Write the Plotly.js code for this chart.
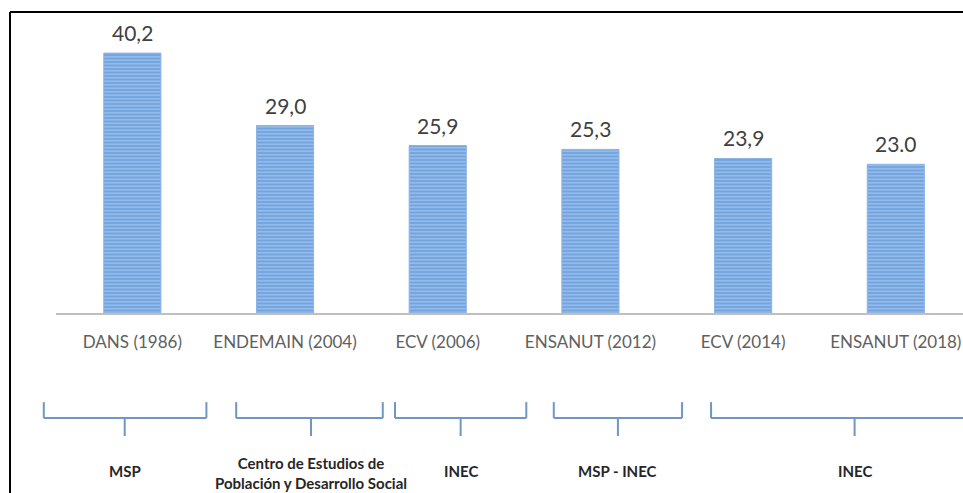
<!DOCTYPE html>
<html>
<head>
<meta charset="utf-8">
<script src="https://cdn.plot.ly/plotly-3.0.1.min.js"></script>
<style>html,body{margin:0;padding:0;background:#fff;overflow:hidden;}#chart{width:963px;height:493px;}</style>
</head>
<body>
<div id="chart"></div>
<script>
// Data
const categories = ['DANS (1986)', 'ENDEMAIN (2004)', 'ECV (2006)', 'ENSANUT (2012)', 'ECV (2014)', 'ENSANUT (2018)'];
const values = [40.2, 29.0, 25.9, 25.3, 23.9, 23.0];
const valueLabels = ['40,2', '29,0', '25,9', '25,3', '23,9', '23.0'];
// Source groups (brackets under the axis), in category units
const groupLabels = ['<b>MSP</b>', '<b>Centro de Estudios de<br>Población y Desarrollo Social</b>', '<b>INEC</b>', '<b>MSP - INEC</b>', '<b>INEC</b>'];
const groupStart = [-0.58, 0.68, 1.72, 2.76, 3.79];
const groupEnd = [0.485, 1.64, 2.58, 3.60, 5.6];
const groupCenter = [-0.05, 1.17, 2.15, 3.18, 4.73];

const xRange = [-0.5, 5.44];
const toPaper = v => (v - xRange[0]) / (xRange[1] - xRange[0]);

const shapes = [];
const annotations = [];
const bc = '#7195c8';
const yTop = -0.297, yBot = -0.35, yStem = -0.41;
for (let i = 0; i < groupLabels.length; i++) {
  const s = toPaper(groupStart[i]), e = toPaper(groupEnd[i]), c = toPaper(groupCenter[i]);
  shapes.push({type: 'line', xref: 'paper', yref: 'paper', x0: s, x1: s, y0: yTop, y1: yBot, line: {color: bc, width: 2}});
  if (groupEnd[i] < xRange[1]) shapes.push({type: 'line', xref: 'paper', yref: 'paper', x0: e, x1: e, y0: yTop, y1: yBot, line: {color: bc, width: 2}});
  shapes.push({type: 'line', xref: 'paper', yref: 'paper', x0: s, x1: Math.min(e, 1.0), y0: yBot, y1: yBot, line: {color: bc, width: 2}});
  shapes.push({type: 'line', xref: 'paper', yref: 'paper', x0: c, x1: c, y0: yBot, y1: yStem, line: {color: bc, width: 2}});
  annotations.push({xref: 'paper', yref: 'paper', x: c, xanchor: 'center', y: i === 1 ? -0.532 : -0.527, text: groupLabels[i],
    showarrow: false, yanchor: 'middle', font: {family: 'Lato, "Open Sans", sans-serif', size: 15, color: '#262626'}});
}
// value labels above the bars
for (let i = 0; i < categories.length; i++) {
  annotations.push({xref: 'x', yref: 'y', x: categories[i], y: values[i], text: valueLabels[i],
    showarrow: false, xanchor: 'center', yanchor: 'bottom', yshift: 6,
    font: {family: 'Lato, "Open Sans", sans-serif', size: 21, color: '#404040'}});
}
// frame
shapes.push({type: 'line', xref: 'paper', yref: 'paper', x0: -0.0507, x1: 1.0, y0: 1.0033, y1: 1.0033, line: {color: '#000', width: 2}});
shapes.push({type: 'line', xref: 'paper', yref: 'paper', x0: -0.0507, x1: -0.0507, y0: 1.0033, y1: -0.62, line: {color: '#000', width: 2}});

const trace = {
  type: 'bar',
  x: categories,
  y: values,
  marker: {
    color: '#72a4e0',
    line: {color: '#8ab2e3', width: 1},
    pattern: {shape: '-', fgcolor: '#d2e3f7', size: 3.5, solidity: 0.35, fillmode: 'overlay'}
  },
  hoverinfo: 'none'
};

const layout = {
  width: 963, height: 493,
  margin: {l: 56, r: 0, t: 13, b: 180},
  paper_bgcolor: '#ffffff',
  plot_bgcolor: 'rgba(0,0,0,0)',
  showlegend: false,
  bargap: 0.626,
  xaxis: {
    range: xRange,
    showline: true, linecolor: '#bfbfbf', linewidth: 2,
    showgrid: false, zeroline: false, ticks: '',
    ticklabelstandoff: 13,
    tickfont: {family: 'Lato, "Open Sans", sans-serif', size: 17, color: '#606060'}
  },
  yaxis: {range: [0, 46.4], visible: false, showgrid: false, zeroline: false},
  shapes: shapes,
  annotations: annotations
};

Plotly.newPlot('chart', [trace], layout, {displayModeBar: false, staticPlot: true});
</script>
</body>
</html>
